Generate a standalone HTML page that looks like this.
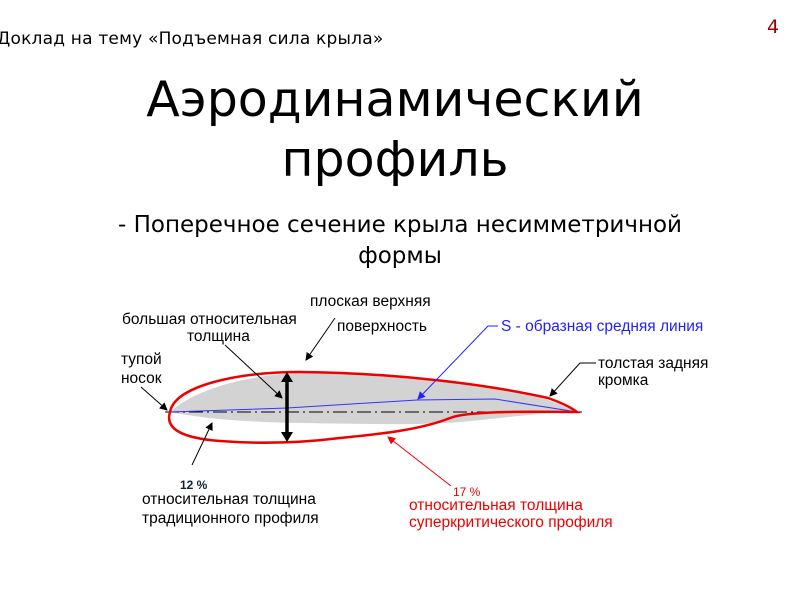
<!DOCTYPE html>
<html><head><meta charset="utf-8"><style>
body{margin:0;background:#fff;width:800px;height:600px;overflow:hidden;position:relative;font-family:"DejaVu Sans","Liberation Sans",sans-serif}
.t{position:absolute;white-space:nowrap}
</style></head><body>
<div class="t" style="left:-3px;top:29px;font-size:17px;letter-spacing:0.2px;color:#000">Доклад на тему «Подъемная сила крыла»</div>
<div class="t" style="left:767px;top:16px;font-size:19px;color:#a00000">4</div>
<div class="t" style="left:0;width:790px;top:70px;text-align:center;font-size:49px;line-height:60px;color:#000">Аэродинамический<br>профиль</div>
<div class="t" style="left:0;width:800px;top:210px;text-align:center;font-size:23px;line-height:31px;color:#000">- Поперечное сечение крыла несимметричной<br>формы</div>
<svg width="800" height="600" style="position:absolute;left:0;top:0" font-family="Liberation Sans, sans-serif" font-size="15.5">
<defs>
<marker id="a" markerWidth="8" markerHeight="8" refX="7" refY="4" orient="auto" markerUnits="userSpaceOnUse"><path d="M0,0 L8,4 L0,8z" fill="#000"/></marker>
<marker id="ar" markerWidth="8" markerHeight="8" refX="7" refY="4" orient="auto" markerUnits="userSpaceOnUse"><path d="M0,0 L8,4 L0,8z" fill="#e00"/></marker>
<marker id="ab" markerWidth="8" markerHeight="8" refX="7" refY="4" orient="auto" markerUnits="userSpaceOnUse"><path d="M0,0 L8,4 L0,8z" fill="#22f"/></marker>
</defs>
<path d="M170,412 C200,385 260,374 300,373 C380,374 460,380 530,395 C550,400 565,406 577,412 C550,412 520,416 480,420 C430,426 380,424 300,423 C240,422 200,418 170,412z" fill="#d3d3d3"/>
<line x1="165" y1="412" x2="582" y2="412" stroke="#000" stroke-width="1" stroke-dasharray="14,4,2,4"/>
<path d="M170,412 L287,408 L417,400 L495,399 L577,412" fill="none" stroke="#33f" stroke-width="1"/>
<path d="M170,412 C175,385 240,372 300,372 C400,373 490,385 548,398 C562,403 572,408 577,412 C545,412 470,410 450,418 C420,430 380,434 340,438 C300,443 260,444 220,441 C180,438 165,428 170,412z" fill="none" stroke="#e00" stroke-width="2.5"/>
<line x1="287" y1="380" x2="287" y2="434" stroke="#000" stroke-width="3.5"/>
<path d="M281,382 L287,372 L293,382z M281,432 L287,442 L293,432z" fill="#000"/>
<g stroke="#000" stroke-width="1" fill="none">
<line x1="141" y1="387" x2="167" y2="410" marker-end="url(#a)"/>
<line x1="225" y1="345" x2="282" y2="398" marker-end="url(#a)"/>
<line x1="335" y1="318" x2="306" y2="360" marker-end="url(#a)"/>
<line x1="192" y1="465" x2="212" y2="423" marker-end="url(#a)"/>
<path d="M596,363 L580,363 L550,396" marker-end="url(#a)"/>
</g>
<path d="M498,326 L488,326 L418,399" stroke="#22f" fill="none" marker-end="url(#ab)"/>
<line x1="451" y1="486" x2="388" y2="437" stroke="#e00" marker-end="url(#ar)"/>
<text x="121" y="364">тупой</text><text x="121" y="383">носок</text>
<text x="122" y="324">большая относительная</text><text x="187" y="341">толщина</text>
<text x="310" y="306">плоская верхняя</text><text x="337" y="331">поверхность</text>
<text x="501" y="331" fill="#22f">S - образная средняя линия</text>
<text x="598" y="368">толстая задняя</text><text x="598" y="385">кромка</text>
<text x="180" y="489" font-size="12" fill="#123" font-weight="bold">12 %</text>
<text x="142" y="504">относительная толщина</text><text x="142" y="523">традиционного профиля</text>
<text x="453" y="496" font-size="12" fill="#e00">17 %</text>
<text x="409" y="510" fill="#e00">относительная толщина</text><text x="409" y="527" fill="#e00">суперкритического профиля</text>
</svg>
</body></html>
